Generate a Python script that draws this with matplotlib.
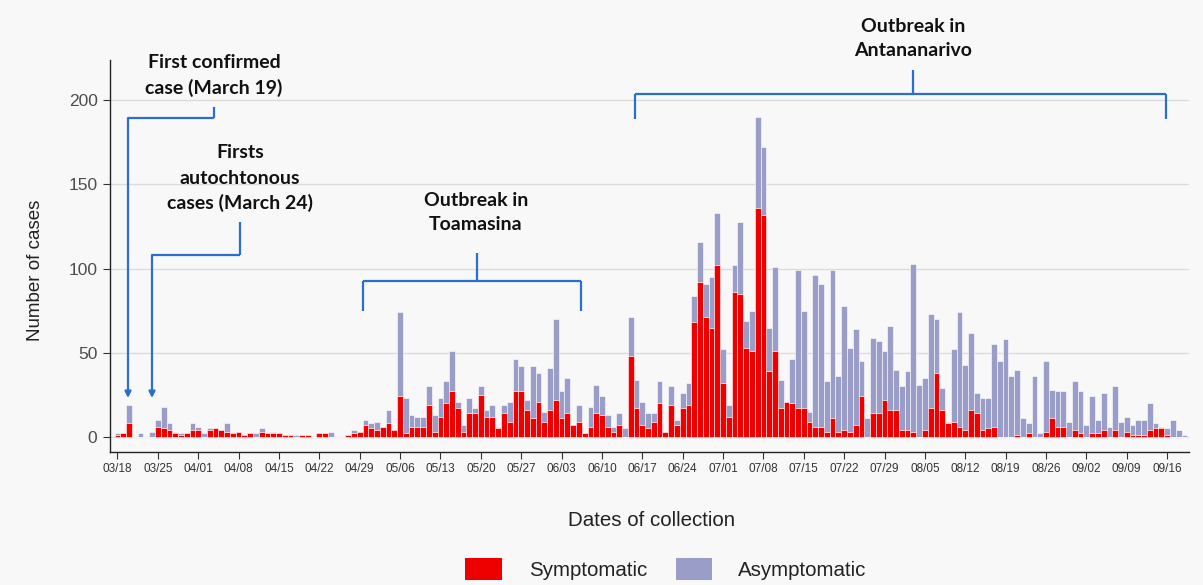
import matplotlib
matplotlib.use("Agg")
import matplotlib.pyplot as plt
import matplotlib.dates as mdates
from matplotlib.lines import Line2D
from matplotlib.patches import Rectangle
import pandas as pd
import numpy as np

# ---------------- data ----------------
start_date = "2020-03-18"
symptomatic = [
    1, 2, 8, 0, 0, 0, 0, 6, 5, 4, 2, 1, 2, 4, 4, 0, 4, 5, 4, 3,
    2, 3, 1, 2, 0, 3, 2, 2, 2, 1, 1, 0, 1, 1, 0, 2, 2, 0, 0, 0,
    1, 2, 3, 7, 5, 4, 6, 8, 4, 24, 2, 6, 6, 6, 19, 3, 12, 20, 27, 17,
    3, 14, 14, 25, 12, 12, 5, 14, 9, 27, 27, 16, 11, 21, 9, 16, 22, 11, 14, 7,
    9, 2, 6, 14, 13, 6, 3, 7, 0, 48, 17, 7, 5, 9, 20, 3, 19, 7, 17, 19,
    68, 92, 71, 65, 102, 32, 12, 86, 85, 53, 51, 136, 132, 39, 51, 17, 21, 20, 17, 17,
    9, 6, 6, 3, 11, 3, 4, 3, 7, 24, 0, 14, 14, 22, 16, 16, 4, 4, 3, 0,
    4, 17, 38, 16, 8, 9, 6, 4, 16, 14, 4, 5, 6, 0, 0, 0, 1, 0, 2, 0,
    0, 3, 11, 6, 6, 0, 4, 2, 0, 2, 2, 4, 0, 4, 0, 3, 1, 1, 1, 4,
    5, 5, 1, 0, 0, 0,
]
asymptomatic = [
    1, 0, 11, 0, 2, 0, 3, 4, 13, 4, 1, 1, 0, 4, 2, 2, 1, 0, 0, 5,
    0, 0, 0, 0, 2, 2, 0, 1, 0, 0, 0, 1, 0, 0, 0, 0, 0, 3, 0, 0,
    0, 2, 0, 3, 3, 5, 0, 8, 0, 50, 21, 7, 6, 6, 11, 10, 11, 13, 24, 4,
    4, 9, 3, 5, 4, 7, 1, 5, 12, 19, 15, 6, 31, 17, 6, 25, 48, 16, 21, 0,
    10, 0, 12, 17, 11, 7, 3, 7, 5, 23, 17, 14, 9, 5, 13, 0, 11, 3, 9, 13,
    16, 24, 20, 30, 31, 20, 7, 16, 43, 16, 24, 54, 40, 26, 50, 17, 0, 26, 82, 58,
    6, 90, 85, 30, 88, 33, 74, 50, 57, 21, 11, 45, 43, 29, 50, 24, 26, 35, 100, 31,
    31, 56, 32, 13, 1, 43, 68, 39, 46, 12, 19, 18, 49, 45, 58, 36, 39, 11, 6, 36,
    2, 42, 17, 21, 21, 9, 29, 25, 7, 22, 8, 22, 6, 26, 9, 9, 6, 9, 9, 16,
    3, 1, 4, 10, 4, 1,
]
dates = pd.date_range(start_date, periods=len(symptomatic), freq="D")
tick_dates = pd.date_range(start_date, "2020-09-16", freq="7D")
y_ticks = [0, 50, 100, 150, 200]
series_names = ["Symptomatic", "Asymptomatic"]

# ---------------- style ----------------
W, H = 1203, 585
BG = "#f8f8f8"
RED = "#ee0000"
LAV = "#9b9dc9"
BLUE = "#2a6fd0"
NARROW = ["Liberation Sans Narrow", "Liberation Sans", "DejaVu Sans"]
BOLD = ["Lato", "Open Sans", "DejaVu Sans"]

fig = plt.figure(figsize=(W / 100, H / 100), dpi=100, facecolor=BG)
ax = fig.add_axes([110 / W, 133 / H, 1079 / W, 392 / H])
ax.set_facecolor(BG)

x = mdates.date2num(dates)
sym = np.array(symptomatic)
asy = np.array(asymptomatic)
ax.bar(x, sym, width=1.0, color=RED, edgecolor="white", linewidth=0.4, zorder=3)
ax.bar(x, asy, width=1.0, bottom=sym, color=LAV, edgecolor="white", linewidth=0.4, zorder=2)

x0 = mdates.date2num(pd.Timestamp(start_date))
ax.set_xlim(x0 - 1.3, x0 + 185.8)
ax.set_ylim(-9, 224)

ax.set_yticks(y_ticks)
ax.yaxis.grid(True, color="#dcdcdc", linewidth=1.0, zorder=0)
ax.xaxis.grid(False)
ax.set_axisbelow(True)

ax.set_xticks(mdates.date2num(tick_dates))
ax.set_xticklabels([d.strftime("%m/%d") for d in tick_dates])
for lab in ax.get_xticklabels():
    lab.set_fontfamily(NARROW)
    lab.set_fontsize(8.5)
    lab.set_color("#333333")
for lab in ax.get_yticklabels():
    lab.set_fontfamily(NARROW)
    lab.set_fontsize(12.5)
    lab.set_color("#4d4d4d")
ax.tick_params(axis="x", length=5, width=0.8, color="#333333", pad=3)
ax.tick_params(axis="y", length=5, width=0.8, color="#333333", pad=4)

for s in ["top", "right"]:
    ax.spines[s].set_visible(False)
for s in ["left", "bottom"]:
    ax.spines[s].set_color("#222222")
    ax.spines[s].set_linewidth(1.0)


def fx(px):
    return px / W


def fy(py):
    return 1 - py / H


# axis titles
fig.text(fx(36), fy(270), "Number of cases", rotation=90, ha="center", va="center",
         fontsize=13.5, family=NARROW, color="#222222")
fig.text(fx(652), fy(520), "Dates of collection", ha="center", va="center",
         fontsize=14.8, family=NARROW, color="#222222")

# legend
fig.add_artist(Rectangle((fx(465), fy(580)), 37 / W, 22 / H, transform=fig.transFigure,
                         facecolor=RED, edgecolor="none"))
fig.text(fx(529), fy(570), series_names[0], ha="left", va="center", fontsize=14.8,
         family=NARROW, color="#222222")
fig.add_artist(Rectangle((fx(676), fy(580)), 36 / W, 22 / H, transform=fig.transFigure,
                         facecolor=LAV, edgecolor="none"))
fig.text(fx(738), fy(570), series_names[1], ha="left", va="center", fontsize=14.8,
         family=NARROW, color="#222222")


def line(xs, ys):
    fig.add_artist(Line2D([fx(v) for v in xs], [fy(v) for v in ys], color=BLUE,
                          linewidth=1.6, transform=fig.transFigure, solid_capstyle="butt"))


def arrow(xp, y_from, y_to):
    ax.annotate("", xy=(xp, H - y_to), xytext=(xp, H - y_from), xycoords="figure pixels",
                textcoords="figure pixels", annotation_clip=False,
                arrowprops=dict(arrowstyle="-|>", color=BLUE, lw=1.6, shrinkA=0, shrinkB=0,
                                mutation_scale=9))


def label(xc, yc, txt):
    fig.text(fx(xc), fy(yc), txt, ha="center", va="center", fontsize=14,
             fontweight="bold", family=BOLD, color="#111111")


# First confirmed case
label(214, 63, "First confirmed")
label(214, 88, "case (March 19)")
line([214, 214], [107, 118])
line([214, 128], [118, 118])
arrow(128, 118, 398)

# First autochthonous cases
label(240, 153, "Firsts")
label(240, 179, "autochtonous")
label(240, 203, "cases (March 24)")
line([240, 240], [222, 255])
line([240, 152], [255, 255])
arrow(152, 255, 398)

# Toamasina
label(476, 200, "Outbreak in")
label(476, 225, "Toamasina")
line([477, 477], [253, 281])
line([363, 581], [281, 281])
line([363, 363], [281, 311])
line([581, 581], [281, 311])

# Antananarivo
label(913, 26, "Outbreak in")
label(913, 51, "Antananarivo")
line([913, 913], [70, 94])
line([635, 1166], [94, 94])
line([635, 635], [94, 119])
line([1166, 1166], [94, 119])

fig.savefig("out.png", dpi=100, facecolor=BG)
